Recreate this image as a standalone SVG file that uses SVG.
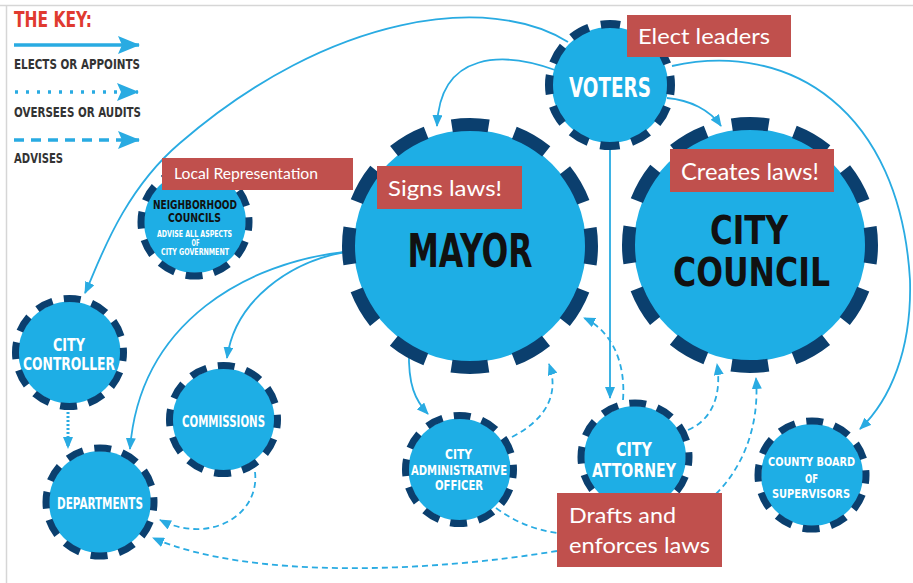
<svg xmlns="http://www.w3.org/2000/svg" width="913" height="583" viewBox="0 0 913 583">
<defs>
<marker id="ah" markerUnits="userSpaceOnUse" markerWidth="12" markerHeight="10" refX="11" refY="5" orient="auto"><path d="M0,0 L12,5 L0,10 z" fill="#29abe2"/></marker>
<marker id="kah" markerUnits="userSpaceOnUse" markerWidth="22" markerHeight="18" refX="21" refY="9" orient="auto"><path d="M0,0 L22,9 L0,18 L4,9 z" fill="#29abe2"/></marker>
<style>
.c{fill:none;stroke:#29abe2;stroke-width:1.8}
.sol{marker-end:url(#ah)}
.dash{stroke-dasharray:6 4}
.dot{stroke-dasharray:2 2;stroke-width:3}
.fill{fill:#1eaee5}
.big{fill:none;stroke:#0b3f6e;stroke-width:13;stroke-dasharray:37 26.62;stroke-dashoffset:18.5}
.vot{fill:none;stroke:#0b3f6e;stroke-width:8;stroke-dasharray:19.5 12.44;stroke-dashoffset:9.75}
.sm{fill:none;stroke:#0b3f6e;stroke-width:7;stroke-dasharray:17 11.53;stroke-dashoffset:8.5}
.t{font-family:"Liberation Sans Narrow","DejaVu Sans Condensed","Liberation Sans",sans-serif;font-weight:bold;text-anchor:middle;fill:#fff}
.tb{fill:#111}
.key{font-family:"Liberation Sans Narrow","DejaVu Sans Condensed","Liberation Sans",sans-serif;font-weight:bold;fill:#333}
.lab{fill:#c0504d}
.lt{font-family:Lato,"Open Sans","Liberation Sans",sans-serif;fill:#fff}
</style>
</defs>
<rect width="913" height="583" fill="#fff"/>
<path d="M0 5.5 H913 M6.5 5 V583" stroke="#d6d6d6" stroke-width="1.5" fill="none"/>

<g id="key">
<text class="key" x="14" y="27" font-size="21" style="fill:#e03a30" textLength="78" lengthAdjust="spacingAndGlyphs">THE KEY:</text>
<line x1="14" y1="45" x2="139" y2="45" stroke="#29abe2" stroke-width="3.5" marker-end="url(#kah)"/>
<text class="key" x="14" y="69" font-size="14" textLength="126" lengthAdjust="spacingAndGlyphs">ELECTS OR APPOINTS</text>
<line x1="15" y1="92" x2="138" y2="92" stroke="#29abe2" stroke-width="3.5" stroke-dasharray="3 8" marker-end="url(#kah)"/>
<text class="key" x="14" y="117" font-size="14" textLength="127" lengthAdjust="spacingAndGlyphs">OVERSEES OR AUDITS</text>
<line x1="14" y1="140" x2="139" y2="140" stroke="#29abe2" stroke-width="3.5" stroke-dasharray="10 7" marker-end="url(#kah)"/>
<text class="key" x="14" y="163" font-size="14" textLength="49" lengthAdjust="spacingAndGlyphs">ADVISES</text>
</g>

<g id="connectors">
<path class="c sol" d="M568 42 C490 -7 330 13 180 143 C120 194 97 268 85 293"/>
<path class="c sol" d="M555 70 C505 52 440 50 437 126"/>
<path class="c sol" d="M667 98 C690 100 710 110 721 126"/>
<path class="c sol" d="M672 66 C790 40 900 110 910 280 C912 350 890 400 860 429"/>
<path class="c sol" d="M610 150 L610 398"/>
<path class="c sol" d="M345 252 C250 262 140 320 130 449"/>
<path class="c sol" d="M345 252 C290 262 235 300 227 358"/>
<path class="c sol" d="M409 350 C408 385 415 400 428 414"/>
<path class="c dot sol" d="M68 412 L68 448"/>
<path class="c dash sol" d="M512 437 C545 420 560 395 549 364"/>
<path class="c dash sol" d="M623 400 C626 360 610 330 584 318"/>
<path class="c dash sol" d="M688 430 C712 420 722 395 717 364"/>
<path class="c dash sol" d="M716 494 C740 470 760 430 756 378"/>
<path class="c dash sol" d="M255 472 C260 515 210 545 160 520"/>
<path class="c dash sol" d="M557 551 C430 572 250 580 153 538"/>
<path class="c dash" d="M496 508 C515 522 535 530 558 533"/>
</g>

<g id="voters">
<circle class="fill" cx="610" cy="85" r="58"/>
<circle class="vot" cx="610" cy="85" r="61"/>
<text class="t" x="610" y="97" font-size="26" textLength="82" lengthAdjust="spacingAndGlyphs">VOTERS</text>
</g>
<g id="mayor">
<circle class="fill" cx="470" cy="246" r="116"/>
<circle class="big" cx="470" cy="246" r="121.5"/>
<text class="t tb" x="470" y="267" font-size="47" textLength="125" lengthAdjust="spacingAndGlyphs">MAYOR</text>
</g>
<g id="city-council">
<circle class="fill" cx="750" cy="245" r="116"/>
<circle class="big" cx="750" cy="245" r="121.5"/>
<text class="t tb" x="749" y="244" font-size="39" textLength="78" lengthAdjust="spacingAndGlyphs">CITY</text>
<text class="t tb" x="751.5" y="286" font-size="39" textLength="157" lengthAdjust="spacingAndGlyphs">COUNCIL</text>
</g>
<g id="neighborhood-councils">
<circle class="fill" cx="195" cy="222" r="51"/>
<circle class="sm" cx="195" cy="222" r="54"/>
<text class="t tb" x="195" y="209" font-size="11.5" textLength="84" lengthAdjust="spacingAndGlyphs">NEIGHBORHOOD</text>
<text class="t tb" x="194.5" y="222" font-size="11.5" textLength="53" lengthAdjust="spacingAndGlyphs">COUNCILS</text>
<text class="t" x="194.5" y="237" font-size="8" textLength="75" lengthAdjust="spacingAndGlyphs">ADVISE ALL ASPECTS</text>
<text class="t" x="195.5" y="246" font-size="8" textLength="8" lengthAdjust="spacingAndGlyphs">OF</text>
<text class="t" x="195" y="255" font-size="8" textLength="68" lengthAdjust="spacingAndGlyphs">CITY GOVERNMENT</text>
</g>
<g id="city-controller">
<circle class="fill" cx="69.5" cy="352.5" r="51"/>
<circle class="sm" cx="69.5" cy="352.5" r="54"/>
<text class="t" x="69" y="351" font-size="17" textLength="32" lengthAdjust="spacingAndGlyphs">CITY</text>
<text class="t" x="69" y="370" font-size="17.5" textLength="92" lengthAdjust="spacingAndGlyphs">CONTROLLER</text>
</g>
<g id="commissions">
<circle class="fill" cx="223.5" cy="419.5" r="51"/>
<circle class="sm" cx="223.5" cy="419.5" r="54"/>
<text class="t" x="223.5" y="427" font-size="15" textLength="83" lengthAdjust="spacingAndGlyphs">COMMISSIONS</text>
</g>
<g id="departments">
<circle class="fill" cx="100" cy="502" r="51"/>
<circle class="sm" cx="100" cy="502" r="54"/>
<text class="t" x="100" y="509" font-size="15" textLength="86" lengthAdjust="spacingAndGlyphs">DEPARTMENTS</text>
</g>
<g id="city-administrative-officer">
<circle class="fill" cx="459.5" cy="469.5" r="51"/>
<circle class="sm" cx="459.5" cy="469.5" r="54"/>
<text class="t" x="458.5" y="459" font-size="14.5" textLength="27" lengthAdjust="spacingAndGlyphs">CITY</text>
<text class="t" x="459" y="475" font-size="14.5" textLength="96" lengthAdjust="spacingAndGlyphs">ADMINISTRATIVE</text>
<text class="t" x="459" y="490" font-size="14" textLength="48" lengthAdjust="spacingAndGlyphs">OFFICER</text>
</g>
<g id="city-attorney">
<circle class="fill" cx="635" cy="457" r="51"/>
<circle class="sm" cx="635" cy="457" r="54"/>
<text class="t" x="634" y="456" font-size="19" textLength="36" lengthAdjust="spacingAndGlyphs">CITY</text>
<text class="t" x="634" y="477" font-size="19" textLength="84" lengthAdjust="spacingAndGlyphs">ATTORNEY</text>
</g>
<g id="county-board">
<circle class="fill" cx="812" cy="475" r="51"/>
<circle class="sm" cx="812" cy="475" r="54"/>
<text class="t" x="811.5" y="466" font-size="13" textLength="87" lengthAdjust="spacingAndGlyphs">COUNTY BOARD</text>
<text class="t" x="811.5" y="483" font-size="13" textLength="13" lengthAdjust="spacingAndGlyphs">OF</text>
<text class="t" x="811" y="498" font-size="13" textLength="78" lengthAdjust="spacingAndGlyphs">SUPERVISORS</text>
</g>

<g id="label-elect">
<rect class="lab" x="627" y="15" width="164" height="42"/>
<text class="lt" x="638" y="44" font-size="22" textLength="132" lengthAdjust="spacingAndGlyphs">Elect leaders</text>
</g>
<g id="label-local">
<rect class="lab" x="162" y="158" width="191" height="32"/>
<text class="lt" x="174" y="179" font-size="15" textLength="144" lengthAdjust="spacingAndGlyphs">Local Representation</text>
</g>
<g id="label-signs">
<rect class="lab" x="377" y="166" width="145" height="43"/>
<text class="lt" x="388" y="196" font-size="22" textLength="114" lengthAdjust="spacingAndGlyphs">Signs laws!</text>
</g>
<g id="label-creates">
<rect class="lab" x="670" y="149" width="164" height="43"/>
<text class="lt" x="681" y="180" font-size="23" textLength="138" lengthAdjust="spacingAndGlyphs">Creates laws!</text>
</g>
<g id="label-drafts">
<rect class="lab" x="557" y="493" width="165" height="74"/>
<text class="lt" x="569" y="523" font-size="22" textLength="107" lengthAdjust="spacingAndGlyphs">Drafts and</text>
<text class="lt" x="569" y="553" font-size="22" textLength="141" lengthAdjust="spacingAndGlyphs">enforces laws</text>
</g>
</svg>
